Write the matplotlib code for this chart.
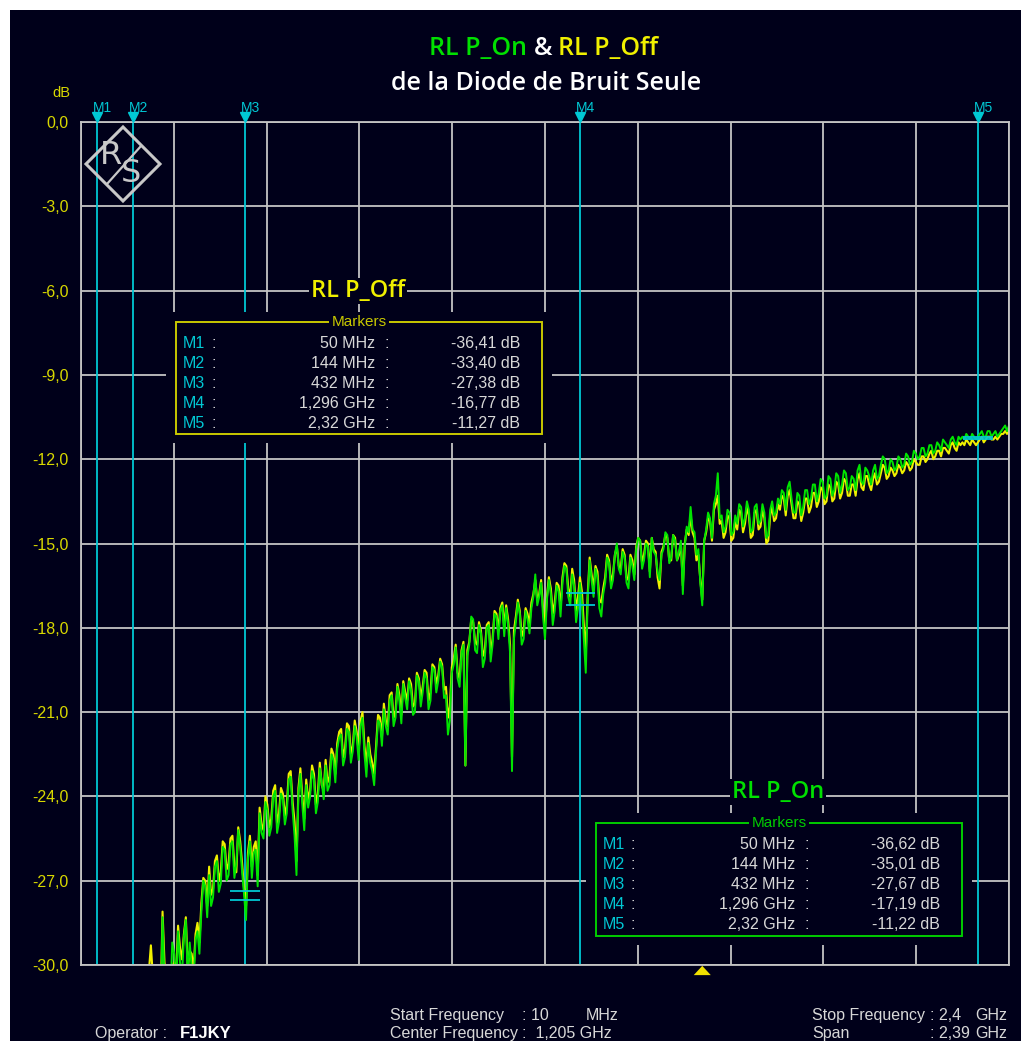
import matplotlib
matplotlib.use("Agg")
from matplotlib import pyplot as plt
from matplotlib.patches import Rectangle, Polygon
from matplotlib.lines import Line2D
import matplotlib.transforms as mtransforms
import numpy as np

W, H = 1021, 1041

# sweep: 10 MHz .. 2.4 GHz, one reading every 5 MHz
freq_mhz = np.arange(10, 2401, 5)

rl_on = [
    -39.2, -38.8, -38.5, -38.0, -37.6, -37.3, -37.1, -36.8, -36.6, -36.7, -36.9, -36.5, -36.2, -36.0, -35.8, -36.1, -36.4, -36.0,
    -35.7, -35.5, -35.3, -35.4, -35.6, -35.3, -35.1, -35.0, -34.8, -34.2, -33.5, -32.9, -32.4, -31.8, -31.2, -30.9, -30.6, -31.4, -31.8, -31.1,
    -30.8, -30.3, -31.5, -31.9, -28.3, -30.6, -30.9, -31.2, -31.3, -29.2, -29.6, -30.8, -28.8, -29.9, -30.4, -29.0, -28.4, -30.5, -29.2, -30.1,
    -30.6, -29.1, -28.8, -29.6, -28.1, -27.0, -27.2, -28.3, -26.8, -27.9, -27.6, -26.5, -26.3, -27.4, -27.1, -25.8, -25.9, -27.0, -26.8, -25.7,
    -25.6, -26.9, -26.4, -25.2, -25.8, -26.7, -27.5, -28.4, -26.2, -25.6, -26.9, -26.0, -25.9, -27.2, -24.6, -25.3, -25.5, -24.2, -24.5, -25.4,
    -25.1, -24.0, -23.8, -25.3, -24.9, -23.9, -24.1, -25.0, -24.6, -23.4, -23.3, -24.5, -25.4, -26.8, -23.9, -23.2, -24.3, -25.2, -23.6, -24.4,
    -24.0, -23.1, -23.4, -24.6, -24.2, -23.0, -23.5, -24.1, -22.9, -23.8, -23.6, -22.5, -22.7, -23.5, -22.3, -21.9, -21.8, -22.9, -22.6, -21.6,
    -21.7, -22.8, -22.4, -21.5, -21.9, -22.7, -21.5, -21.2, -22.5, -23.3, -22.1, -22.8, -23.1, -23.6, -22.4, -21.3, -21.4, -22.2, -20.9, -21.5,
    -21.8, -20.6, -20.4, -21.5, -21.2, -20.1, -20.6, -21.4, -20.0, -20.5, -20.9, -19.9, -20.2, -21.1, -21.0, -19.7, -19.9, -20.8, -20.3, -19.6,
    -19.8, -20.9, -20.6, -19.4, -19.5, -20.3, -19.9, -19.2, -19.4, -20.5, -20.4, -21.8, -21.3, -19.6, -19.3, -18.7, -19.8, -20.1, -18.9, -18.6,
    -22.9, -19.0, -18.6, -17.6, -17.7, -18.8, -18.9, -17.9, -18.2, -19.4, -19.1, -18.0, -17.9, -19.2, -18.6, -17.5, -17.6, -18.4, -17.4, -17.2,
    -18.3, -17.3, -17.9, -18.9, -23.1, -18.4, -17.8, -17.1, -17.5, -18.6, -18.4, -17.4, -17.7, -18.2, -17.3, -16.9, -16.1, -17.2, -16.9, -16.4,
    -17.6, -18.4, -17.0, -16.3, -16.8, -17.9, -17.4, -16.5, -16.7, -17.6, -16.4, -15.8, -15.9, -16.9, -17.2, -16.1, -16.5, -17.8, -17.3, -16.4,
    -17.1, -18.4, -19.6, -17.0, -15.6, -16.3, -16.9, -15.9, -16.2, -17.3, -17.6, -16.8, -16.4, -15.5, -15.7, -16.6, -16.3, -15.4, -15.0, -15.9,
    -16.1, -15.3, -15.5, -16.4, -16.6, -15.5, -15.8, -16.3, -15.2, -14.8, -14.9, -15.9, -15.6, -15.0, -15.1, -16.2, -14.8, -15.3, -15.4, -16.0,
    -16.3, -15.4, -15.2, -14.6, -14.7, -15.7, -15.5, -14.7, -14.9, -15.6, -15.3, -14.9, -16.8, -15.1, -14.4, -14.6, -13.7, -14.5, -14.6, -15.4,
    -15.2, -16.4, -17.2, -14.9, -14.5, -13.9, -14.1, -14.8, -13.6, -13.3, -12.5, -14.1, -14.0, -14.6, -14.4, -13.8, -13.9, -14.7, -14.6, -14.0,
    -14.3, -13.6, -13.7, -14.4, -14.1, -13.5, -13.8, -14.6, -14.5, -13.7, -13.6, -14.3, -14.2, -13.6, -13.9, -14.8, -14.7, -13.8, -13.5, -14.0,
    -13.9, -13.4, -13.6, -13.1, -13.2, -13.8, -13.0, -12.8, -13.4, -13.9, -13.9, -13.2, -13.3, -14.0, -13.7, -13.1, -13.1, -13.6, -13.4, -12.9,
    -12.9, -13.5, -13.2, -12.7, -12.8, -13.4, -13.3, -12.6, -12.7, -13.3, -13.1, -12.5, -12.6, -13.2, -12.9, -12.4, -12.5, -13.1, -13.0, -12.6,
    -12.7, -13.1, -12.4, -12.2, -12.8, -12.9, -12.3, -12.4, -12.6, -12.9, -12.4, -12.2, -12.7, -12.6, -12.2, -11.9, -12.0, -12.5, -12.4, -12.0,
    -12.1, -12.4, -12.3, -11.9, -12.0, -12.3, -12.2, -11.8, -11.9, -12.2, -12.1, -11.7, -11.8, -12.0, -11.9, -11.6, -11.6, -11.9, -11.8, -11.5,
    -11.5, -11.8, -11.7, -11.4, -11.5, -11.7, -11.3, -11.4, -11.5, -11.6, -11.3, -11.2, -11.4, -11.5, -11.2, -11.3, -11.2, -11.3, -11.1, -11.2,
    -11.3, -11.1, -11.2, -11.3, -11.2, -11.1, -11.0, -11.2, -11.2, -11.0, -11.0, -11.2, -11.1, -11.0, -11.2, -11.1, -11.0, -10.9, -10.8, -11.0,
    -10.8,
]

rl_off = [
    -38.9, -38.5, -38.1, -37.7, -37.3, -37.0, -36.8, -36.6, -36.4, -36.5, -36.7, -36.3, -35.9, -35.5, -35.2, -35.4, -35.6, -35.2,
    -34.9, -34.7, -34.5, -34.3, -34.1, -33.8, -33.6, -33.4, -33.2, -32.9, -32.6, -32.0, -31.4, -31.9, -32.3, -31.6, -31.0, -30.2, -29.3, -30.4,
    -31.2, -30.6, -30.5, -31.4, -28.1, -29.9, -30.7, -31.0, -31.6, -30.1, -29.9, -30.3, -28.6, -29.4, -29.8, -28.9, -28.3, -30.1, -29.5, -29.6,
    -30.2, -28.9, -28.5, -29.2, -27.8, -26.9, -27.0, -27.9, -26.5, -27.5, -27.3, -26.3, -26.1, -27.0, -26.7, -25.6, -25.7, -26.6, -26.4, -25.5,
    -25.4, -26.5, -26.7, -25.1, -25.6, -26.4, -27.3, -27.9, -26.0, -25.4, -26.5, -25.8, -25.6, -26.8, -24.4, -25.0, -25.2, -24.0, -24.3, -25.1,
    -24.8, -23.8, -23.6, -25.0, -24.6, -23.7, -23.9, -24.7, -24.3, -23.2, -23.1, -24.2, -24.9, -26.3, -23.7, -23.0, -24.0, -24.8, -23.4, -24.1,
    -23.8, -22.9, -23.2, -24.3, -23.9, -22.8, -23.6, -23.8, -22.7, -23.5, -23.3, -22.3, -22.5, -23.2, -22.1, -21.7, -21.6, -22.6, -22.3, -21.4,
    -21.5, -22.5, -22.2, -21.3, -21.7, -22.4, -21.3, -21.0, -22.2, -22.9, -21.9, -22.5, -22.8, -23.2, -22.2, -21.1, -21.2, -21.9, -20.7, -21.3,
    -21.5, -20.4, -20.3, -21.2, -21.0, -20.0, -20.4, -21.1, -19.9, -20.3, -20.6, -19.8, -20.0, -20.8, -20.7, -19.6, -19.8, -20.5, -20.1, -19.5,
    -19.6, -20.6, -20.3, -19.3, -19.4, -20.0, -19.7, -19.1, -19.3, -20.2, -20.1, -21.2, -20.8, -19.4, -19.1, -18.6, -19.6, -19.8, -18.8, -18.5,
    -22.9, -18.8, -18.5, -17.7, -17.8, -18.5, -18.6, -17.8, -18.1, -19.0, -18.8, -17.9, -17.8, -18.9, -18.4, -17.4, -17.5, -18.1, -17.3, -17.1,
    -18.0, -17.2, -17.7, -18.6, -22.6, -18.1, -17.6, -17.0, -17.4, -18.3, -18.1, -17.3, -17.5, -17.9, -17.1, -16.8, -16.3, -17.0, -16.8, -16.3,
    -17.3, -18.0, -16.9, -16.2, -16.6, -17.5, -17.1, -16.4, -16.5, -17.3, -16.2, -15.7, -15.8, -16.6, -16.9, -15.9, -16.3, -17.4, -16.9, -16.2,
    -16.7, -17.9, -18.9, -16.8, -15.5, -16.1, -16.6, -15.8, -16.0, -17.0, -17.1, -16.6, -16.2, -15.4, -15.6, -16.4, -16.1, -15.4, -15.1, -15.8,
    -15.9, -15.2, -15.4, -16.2, -16.3, -15.4, -15.6, -16.1, -15.1, -14.8, -14.9, -15.7, -15.4, -14.9, -15.0, -16.0, -14.8, -15.2, -15.3, -16.2,
    -16.6, -15.3, -15.1, -14.7, -14.8, -15.6, -15.6, -14.7, -14.8, -15.6, -15.4, -15.0, -16.5, -15.0, -14.5, -14.7, -14.0, -14.6, -14.8, -15.6,
    -15.4, -16.3, -17.0, -14.9, -14.6, -14.1, -14.2, -14.9, -13.8, -13.6, -13.3, -14.3, -14.2, -14.8, -14.6, -14.0, -14.1, -14.9, -14.8, -14.2,
    -14.5, -13.8, -13.9, -14.6, -14.3, -13.7, -14.0, -14.8, -14.7, -13.9, -13.8, -14.5, -14.4, -13.8, -14.1, -15.0, -14.9, -14.0, -13.7, -14.2,
    -14.1, -13.6, -13.8, -13.3, -13.4, -14.0, -13.3, -13.1, -13.6, -14.1, -14.1, -13.5, -13.6, -14.2, -13.9, -13.4, -13.4, -13.9, -13.7, -13.2,
    -13.2, -13.7, -13.5, -13.0, -13.1, -13.6, -13.5, -12.9, -13.0, -13.5, -13.4, -12.8, -12.9, -13.4, -13.2, -12.7, -12.8, -13.3, -13.3, -12.9,
    -12.9, -13.3, -12.7, -12.5, -13.0, -13.1, -12.6, -12.6, -12.9, -13.1, -12.7, -12.5, -12.9, -12.8, -12.5, -12.2, -12.3, -12.7, -12.6, -12.3,
    -12.4, -12.6, -12.5, -12.2, -12.3, -12.5, -12.4, -12.1, -12.2, -12.4, -12.3, -12.0, -12.1, -12.2, -12.2, -11.9, -11.9, -12.1, -12.0, -11.8,
    -11.7, -12.0, -11.9, -11.7, -11.7, -11.9, -11.6, -11.6, -11.7, -11.8, -11.5, -11.4, -11.6, -11.7, -11.4, -11.5, -11.4, -11.5, -11.3, -11.4,
    -11.5, -11.3, -11.4, -11.5, -11.4, -11.3, -11.2, -11.4, -11.3, -11.2, -11.2, -11.3, -11.3, -11.2, -11.3, -11.2, -11.1, -11.1, -11.0, -11.1,
    -11.0,
]

marker_names = ["M1", "M2", "M3", "M4", "M5"]
marker_freqs = [50, 144, 432, 1296, 2320]
marker_freq_labels = ["50 MHz", "144 MHz", "432 MHz", "1,296 GHz", "2,32 GHz"]
marker_off_db = [-36.41, -33.40, -27.38, -16.77, -11.27]
marker_on_db = [-36.62, -35.01, -27.67, -17.19, -11.22]

start_mhz, stop_mhz = 10, 2400
ref_pointer_mhz = 1610
y_ticks = [0, -3, -6, -9, -12, -15, -18, -21, -24, -27, -30]

BG = "#00001a"
GRID = "#c4c4c4"
TRACE_YELLOW = "#f0f000"
TRACE_GREEN = "#00e400"
LABEL_YELLOW = "#d8d800"
BOX_YELLOW = "#c8c800"
BOX_GREEN = "#00cc00"
CYAN = "#00c8d4"
TEXT = "#d8d8d8"
FONT = ["Liberation Sans", "DejaVu Sans"]
TITLE_FONT = ["Open Sans", "DejaVu Sans"]


def fx(x):
    return x / W


def fy(y):
    return 1 - y / H


def comma(v, nd):
    s = f"{v:.{nd}f}".replace(".", ",")
    return "0,0" if s in ("-0,0", "0,0") else s


fig = plt.figure(figsize=(W / 100, H / 100), dpi=100, facecolor="white")
fig.patches.append(Rectangle((fx(10), 0), 1 - fx(10), fy(10), transform=fig.transFigure,
                             facecolor=BG, edgecolor="none", zorder=-5))

ax = fig.add_axes([fx(81), fy(965), (1009 - 81) / W, (965 - 122) / H])
ax.set_facecolor(BG)
ax.set_xlim(start_mhz, stop_mhz)
ax.set_ylim(-30, 0)
ax.set_xticks(np.linspace(start_mhz, stop_mhz, 11))
ax.set_xticklabels([])
ax.set_yticks(y_ticks)
ax.set_yticklabels([comma(v, 1) for v in y_ticks], color=LABEL_YELLOW, fontsize=11.5, family=FONT)
ax.tick_params(length=0, pad=9)
ax.grid(True, color=GRID, lw=1.3)
ax.set_axisbelow(True)
for sp in ax.spines.values():
    sp.set_color(GRID)
    sp.set_linewidth(1.3)

# marker lines behind the traces
for f in marker_freqs:
    ax.axvline(f, color=CYAN, lw=1.3, zorder=1.5)

ax.plot(freq_mhz, rl_off, color=TRACE_YELLOW, lw=1.5, zorder=2)
ax.plot(freq_mhz, rl_on, color=TRACE_GREEN, lw=1.4, zorder=2.1)

# marker readout crosshairs
for f, v_off, v_on in zip(marker_freqs, marker_off_db, marker_on_db):
    ax.hlines([v_off, v_on], f - 38, f + 38, color=CYAN, lw=1.3, zorder=3)

top = mtransforms.blended_transform_factory(ax.transData, ax.transAxes)
ax.plot(marker_freqs, [1.006] * len(marker_freqs), "v", color=CYAN, ms=6.5,
        transform=top, clip_on=False, zorder=4)
for name, f in zip(marker_names, marker_freqs):
    ax.annotate(name, (f, 1.0), xycoords=top, xytext=(-4, 10), textcoords="offset pixels",
                ha="left", va="baseline", color=CYAN, fontsize=10, family=FONT)

# pointer under the frequency axis
ax.add_patch(Polygon([(ref_pointer_mhz - 22, -0.012), (ref_pointer_mhz + 22, -0.012),
                      (ref_pointer_mhz, -0.001)], closed=True, transform=top,
                     facecolor="#f0e000", edgecolor="none", clip_on=False))

fig.text(fx(61), fy(97), "dB", color=LABEL_YELLOW, fontsize=10.5, family=FONT,
         ha="center", va="baseline")

# R&S logo
fig.patches.append(Polygon([(fx(123), fy(127)), (fx(160), fy(164)), (fx(123), fy(201)),
                            (fx(86), fy(164))], closed=True, transform=fig.transFigure,
                           facecolor="none", edgecolor="#c8c8c8", lw=2.2, zorder=2))
fig.lines.append(Line2D([fx(141), fx(107)], [fy(146), fy(184)], transform=fig.transFigure,
                        color="#c8c8c8", lw=1.6, zorder=2))
fig.text(fx(111), fy(155), "R", color="#c8c8c8", fontsize=23,
         family=["Liberation Sans Narrow", "DejaVu Sans"], ha="center", va="center")
fig.text(fx(131), fy(173), "S", color="#c8c8c8", fontsize=23,
         family=["Liberation Sans Narrow", "DejaVu Sans"], ha="center", va="center")

# title
fig.text(fx(527), fy(55), "RL P_On", color="#00e000", fontsize=18, family=TITLE_FONT,
         weight="semibold", ha="right", va="baseline")
fig.text(fx(543), fy(55), "&", color="white", fontsize=18, family=TITLE_FONT,
         weight="semibold", ha="center", va="baseline")
fig.text(fx(558), fy(55), "RL P_Off", color="#f0f000", fontsize=18, family=TITLE_FONT,
         weight="semibold", ha="left", va="baseline")
fig.text(fx(546), fy(90), "de la Diode de Bruit Seule", color="white", fontsize=18,
         family=TITLE_FONT, weight="semibold", ha="center", va="baseline")


def marker_table(x0, y0, x1, y1, color, title_color, title, values):
    fig.patches.append(Rectangle((fx(x0 - 10), fy(y1 + 9)), (x1 - x0 + 20) / W,
                                 (y1 - y0 + 19) / H, transform=fig.transFigure,
                                 facecolor=BG, edgecolor="none", zorder=5))
    fig.patches.append(Rectangle((fx(x0), fy(y1)), (x1 - x0) / W, (y1 - y0) / H,
                                 transform=fig.transFigure, facecolor="none",
                                 edgecolor=color, lw=1.4, zorder=6))
    fig.text(fx((x0 + x1) / 2), fy(y0), "Markers", color=color, fontsize=11, family=FONT,
             ha="center", va="center", zorder=7,
             bbox=dict(facecolor=BG, edgecolor="none", pad=2))
    fig.text(fx((x0 + x1) / 2 - 1), fy(y0 - 25), title, color=title_color, fontsize=17,
             family=TITLE_FONT, weight="semibold", ha="center", va="baseline", zorder=7,
             bbox=dict(facecolor=BG, edgecolor="none", pad=1))
    for i, (name, fl, v) in enumerate(zip(marker_names, marker_freq_labels, values)):
        yb = fy(y0 + 26 + 20 * i)
        kw = dict(fontsize=11.5, family=FONT, va="baseline", zorder=7)
        fig.text(fx(x0 + 7), yb, name, color=CYAN, ha="left", **kw)
        fig.text(fx(x0 + 35), yb, ":", color=TEXT, ha="left", **kw)
        fig.text(fx(x0 + 199), yb, fl, color=TEXT, ha="right", **kw)
        fig.text(fx(x0 + 208), yb, ":", color=TEXT, ha="left", **kw)
        fig.text(fx(x0 + 344), yb, comma(v, 2) + " dB", color=TEXT, ha="right", **kw)


marker_table(176, 322, 542, 434, BOX_YELLOW, "#f0f000", "RL P_Off", marker_off_db)
marker_table(596, 823, 962, 936, BOX_GREEN, "#00e000", "RL P_On", marker_on_db)

# instrument settings along the bottom
bkw = dict(color=TEXT, fontsize=11.5, family=FONT, va="baseline")
fig.text(fx(390), fy(1020), "Start Frequency", **bkw)
fig.text(fx(522), fy(1020), ": 10", **bkw)
fig.text(fx(586), fy(1020), "MHz", **bkw)
fig.text(fx(390), fy(1038), "Center Frequency", **bkw)
fig.text(fx(522), fy(1038), ":  1,205 GHz", **bkw)
fig.text(fx(812), fy(1020), "Stop Frequency", **bkw)
fig.text(fx(930), fy(1020), ": 2,4", **bkw)
fig.text(fx(975), fy(1020), "GHz", **bkw)
fig.text(fx(812), fy(1038), "Span", **bkw)
fig.text(fx(930), fy(1038), ": 2,39", **bkw)
fig.text(fx(975), fy(1038), "GHz", **bkw)
fig.text(fx(95), fy(1038), "Operator :", **bkw)
fig.text(fx(180), fy(1038), "F1JKY", color="white", fontsize=12, family=FONT,
         weight="bold", va="baseline")

fig.savefig("out.png", dpi=100, facecolor="white")
